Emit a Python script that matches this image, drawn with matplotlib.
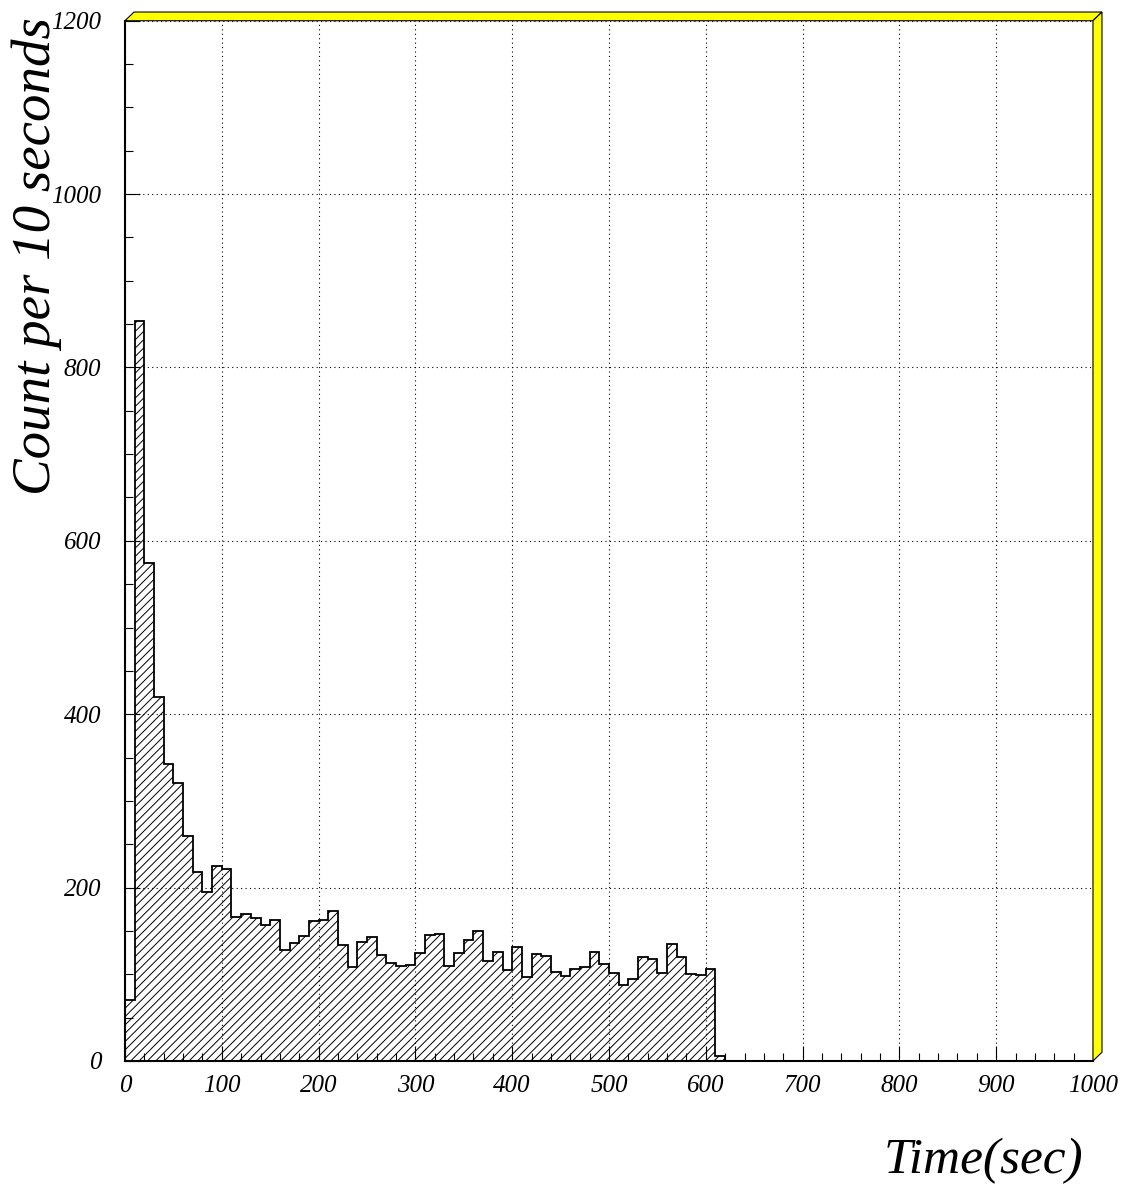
import numpy as np
import matplotlib
matplotlib.use('Agg')
import matplotlib.pyplot as plt
from matplotlib.patches import Polygon
from matplotlib.ticker import MultipleLocator

# counts per 10 s bin (bins after 620 s are empty)
counts_nonzero = [70, 854, 575, 420, 342, 321, 260, 218, 195, 225,
                  221, 166, 169, 165, 157, 163, 128, 136, 144, 161,
                  163, 173, 134, 108, 137, 143, 122, 113, 110, 111,
                  124, 145, 147, 109, 125, 140, 150, 115, 126, 105,
                  131, 97, 123, 121, 103, 98, 106, 108, 126, 112,
                  102, 88, 94, 120, 118, 101, 135, 120, 100, 99,
                  106, 6]
edges = np.arange(0, 1001, 10)
counts = np.zeros(len(edges) - 1)
counts[:len(counts_nonzero)] = counts_nonzero

xticks = np.arange(0, 1001, 100)
yticks = np.arange(0, 1201, 200)

plt.rcParams['font.family'] = ['Liberation Serif', 'DejaVu Serif']
plt.rcParams['hatch.linewidth'] = 0.7

fig = plt.figure(figsize=(11.24, 11.91), dpi=100)
ax = fig.add_axes([0.1112, 0.1092, 0.8612, 0.8734])

# hatched fill + outline
ax.stairs(counts, edges, fill=True, facecolor='none', edgecolor='black',
          hatch='////', linewidth=0)
ax.stairs(counts, edges, baseline=0, color='black', linewidth=1.3)

ax.set_xlim(0, 1000)
ax.set_ylim(0, 1200)
ax.set_xticks(xticks)
ax.set_yticks(yticks)
ax.set_xticklabels([str(v) for v in xticks], fontstyle='italic', fontsize=18)
ax.set_yticklabels([str(v) for v in yticks], fontstyle='italic', fontsize=18)
ax.xaxis.set_minor_locator(MultipleLocator(20))
ax.yaxis.set_minor_locator(MultipleLocator(50))
ax.tick_params(which='both', direction='in', color='black', width=0.8,
               top=False, right=False)
ax.tick_params(which='major', length=11)
ax.tick_params(which='minor', length=6)
ax.tick_params(axis='x', which='major', pad=10)
ax.tick_params(axis='y', which='major', pad=17)

ax.grid(True, which='major', color='black', linestyle=(0, (1, 3)), linewidth=0.8)
ax.set_axisbelow(False)

for s in ['top', 'right']:
    ax.spines[s].set_visible(False)
for s in ['left', 'bottom']:
    ax.spines[s].set_linewidth(1.5)

# yellow 3D frame on top and right side
dx = 9 / 968
dy = 8.7 / 1040
top_band = Polygon([(0, 1), (dx, 1 + dy), (1 + dx, 1 + dy), (1, 1)], closed=True,
                   transform=ax.transAxes, facecolor='#ffff00', edgecolor='black',
                   linewidth=0.8, clip_on=False, zorder=5)
right_band = Polygon([(1, 1), (1 + dx, 1 + dy), (1 + dx, dy), (1, 0)], closed=True,
                     transform=ax.transAxes, facecolor='#ffff00', edgecolor='black',
                     linewidth=0.8, clip_on=False, zorder=5)
ax.add_patch(top_band)
ax.add_patch(right_band)

fig.text(37 / 1124, 0.7846, 'Count per 10 seconds', rotation=90, fontsize=39.5,
         fontstyle='italic', ha='center', va='center')
fig.text(0.8746, 18 / 1191, 'Time(sec)', fontsize=37, fontstyle='italic',
         ha='center', va='baseline')

fig.savefig('out.png', dpi=100)
